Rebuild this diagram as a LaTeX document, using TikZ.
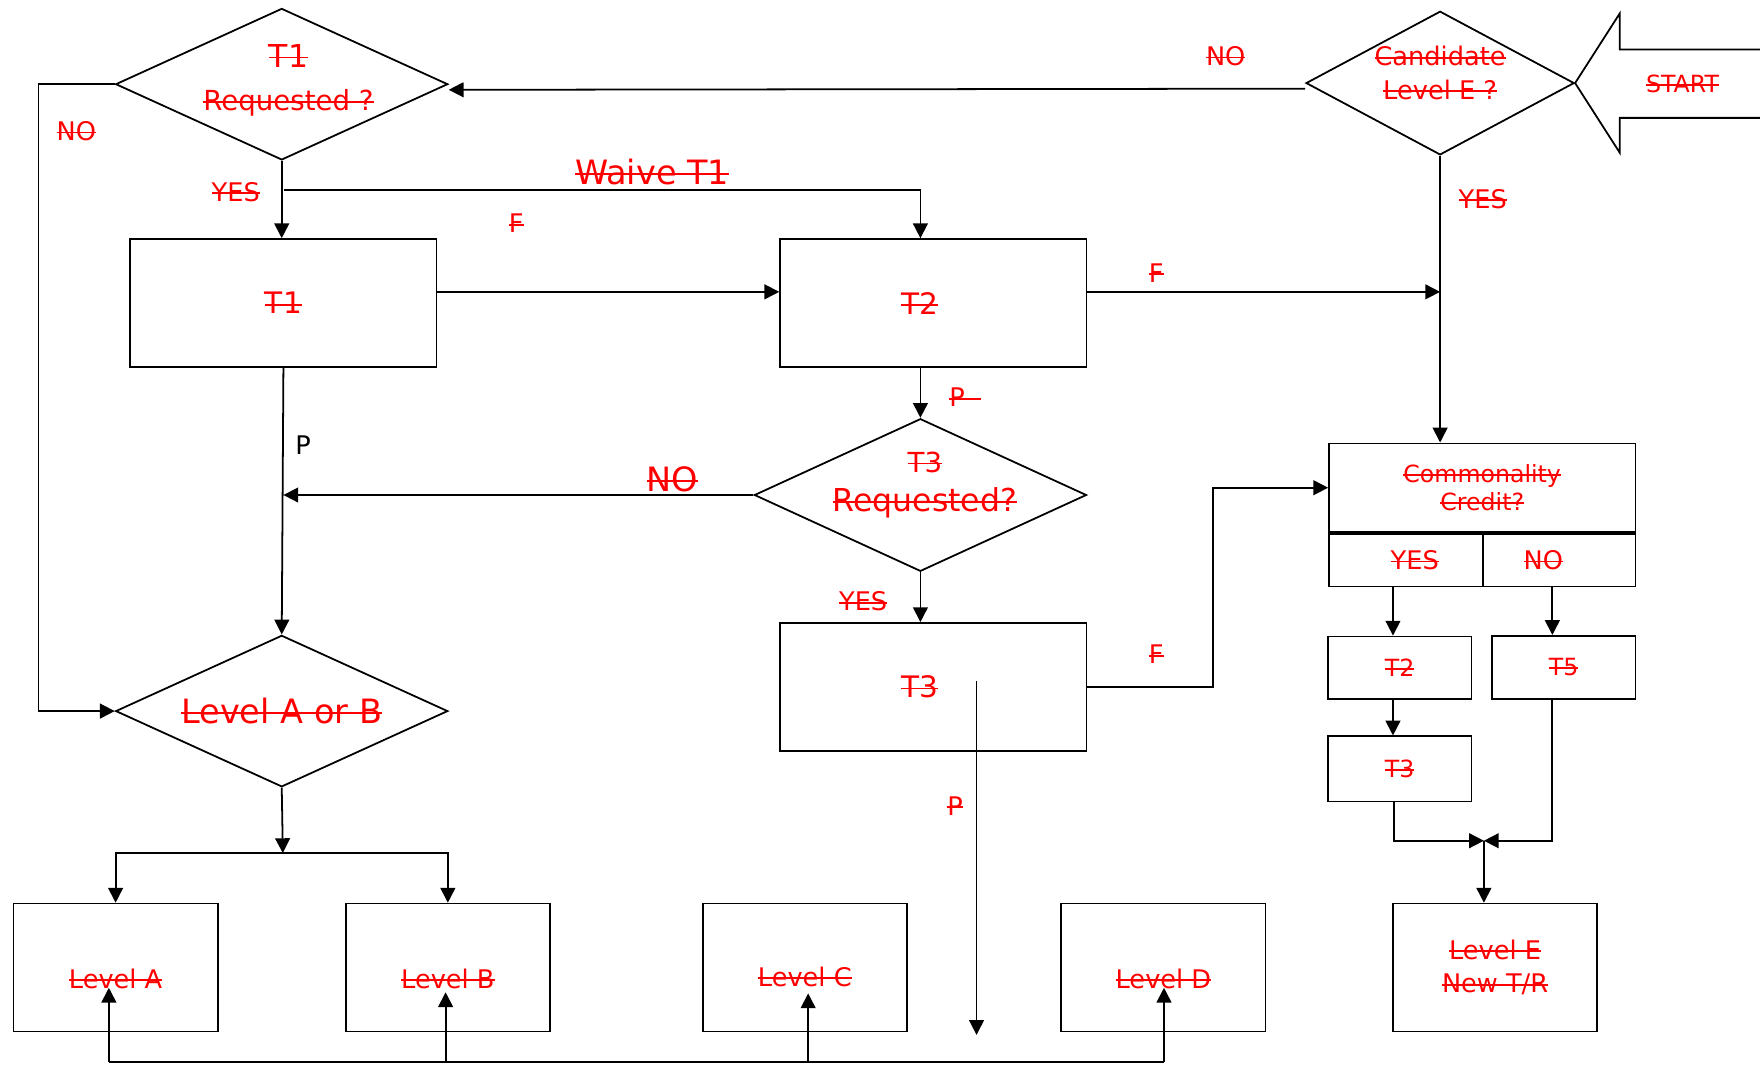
\documentclass[tikz,border=0pt]{standalone}
\usepackage{fontspec}
\setmainfont{DejaVu Sans}
\usetikzlibrary{shapes.geometric,arrows.meta}
\newsavebox\strkbox
\newcommand{\strk}[1]{\sbox\strkbox{#1}\rlap{\rule[0.28em]{\wd\strkbox}{0.9pt}}\usebox\strkbox}

\begin{document}
\begin{tikzpicture}[x=0.02cm,y=-0.02cm,->,>={Triangle[length=7.5pt,width=7.5pt]},line width=0.9pt,
    box/.style={draw,rectangle,text=red,align=center,minimum width=5.46cm,minimum height=2.28cm,font=\fontsize{15}{18}\selectfont},
    lvbox/.style={box,minimum width=3.64cm,font=\fontsize{13}{17}\selectfont},
    smallbox/.style={box,minimum width=2.56cm,minimum height=1.12cm,font=\fontsize{12}{14}\selectfont},
    decision/.style={draw,diamond,inner sep=0pt,minimum width=5.92cm,minimum height=2.7cm},
    dtext/.style={text=red,align=center,inner sep=0pt},
    lbl/.style={text=red,inner sep=0pt,font=\fontsize{13}{15}\selectfont},
    biglbl/.style={lbl,font=\fontsize{17}{20}\selectfont}]

    \useasboundingbox (0,0) rectangle (1568,948);

    % decisions
    \node[decision] (d1) at (251,75) {};
    \node[dtext,font=\fontsize{14}{22}\selectfont] (d1t) at ([xshift=0.12cm,yshift=0.07cm]d1.center) {{\fontsize{16}{22}\selectfont\strk{T1}}\\\strk{Requested ?}};
    \node[decision,minimum width=4.78cm,minimum height=2.56cm] (cand) at (1283,74) {};
    \node[dtext,font=\fontsize{13}{17}\selectfont] (candt) at ([yshift=0.18cm]cand.center) {\strk{Candidate}\\\strk{Level E ?}};
    \node[decision,minimum height=2.72cm] (t3q) at (820,441) {};
    \node[dtext,font=\fontsize{16}{20}\selectfont] (t3qt) at ([xshift=0.08cm,yshift=0.18cm]t3q.center) {{\fontsize{14}{20}\selectfont\strk{T3}}\\\strk{Requested?}};
    \node[decision] (lab) at (251,633.5) {};
    \node[dtext,font=\fontsize{17}{20}\selectfont] (labt) at (lab.center) {\strk{Level A or B}};

    % boxes
    \node[box] (t1) at (252.5,270) {\strk{T1}};
    \node[box] (t2) at (831.5,270) {\strk{T2}\hspace*{14pt}};
    \node[box] (t3) at (831.5,612) {\strk{T3}\hspace*{14pt}};
    \node[lvbox,text height=21pt] (lvA) at (103,862) {\strk{Level A}};
    \node[lvbox,text height=21pt] (lvB) at (399,862) {\strk{Level B}};
    \node[lvbox,text height=19pt] (lvC) at (717,862) {\strk{Level C}};
    \node[lvbox,text height=21pt] (lvD) at (1036.5,862) {\strk{Level D}};
    \node[lvbox] (lvE) at (1332,862) {\strk{Level E}\\\strk{New T/R}};

    \node[box,minimum height=1.58cm,font=\fontsize{12}{14}\selectfont] (cc) at (1320.5,434.5) {\strk{Commonality}\\\strk{Credit?}};
    \node[box,minimum width=2.74cm,minimum height=0.94cm,font=\fontsize{13}{15}\selectfont,anchor=north west] (ccyes) at (cc.south west) {\hspace*{9pt}\strk{YES}};
    \node[box,minimum width=2.72cm,minimum height=0.94cm,font=\fontsize{13}{15}\selectfont,anchor=north east] (ccno) at (cc.south east) {\strk{NO}\hspace*{16pt}};
    \node[smallbox] (t2s) at (1247,595) {\strk{T2}};
    \node[smallbox] (t5) at (1393,594.5) {\strk{T5}};
    \node[smallbox,minimum height=1.16cm] (t3s) at (1247,685) {\strk{T3}};

    % start arrow
    \draw[-] (1568,44) -- (1443,44) -- (1443,12) -- (cand.east) -- (1443,136) -- (1443,105) -- (1568,105);
    \node[lbl,font=\fontsize{12}{14}\selectfont] (start) at (1499,75) {\strk{START}};

    % labels
    \node[lbl] (noa) at (1092,50) {\strk{NO}};
    \node[lbl] (nob) at (68,117) {\strk{NO}};
    \node[lbl] (yesa) at (210,171) {\strk{YES}};
    \node[biglbl] (waive) at (581,153) {\strk{Waive T1}};
    \node[lbl] (fa) at (460,199) {\strk{F}};
    \node[lbl] (fb) at (1030,243) {\strk{F}};
    \node[lbl] (yesb) at (1321,177) {\strk{YES}};
    \node[lbl] (pa) at (860,354) {\strk{P\ \ }};
    \node[biglbl] (noc) at (599,427) {\strk{NO}};
    \node[lbl,text=black] (pb) at (270,397) {P};
    \node[lbl] (yesc) at (769,536) {\strk{YES}};
    \node[lbl] (fc) at (1030,583) {\strk{F}};
    \node[lbl] (pc) at (851,718) {\strk{P}};

    \coordinate (wv) at (253,169);
    \coordinate (split) at (252,760);
    \coordinate (mrg) at (1322,749);
    \coordinate (pin) at (870,607);
    \coordinate (pout) at (870,922);
    \coordinate (ba) at (97,946);
    \coordinate (bb) at (397,946);
    \coordinate (bc) at (720,946);
    \coordinate (bd) at (1037,946);
    \coordinate (ta) at (97,880);
    \coordinate (tb) at (397,884);
    \coordinate (tc) at (720,885);
    \coordinate (td) at (1037,880);

    % connectors
    \draw ([yshift=-0.1cm]cand.west) -- ([yshift=-0.1cm]d1.east);
    \draw (d1.west) -- ++(-68,0) |- (lab.west);
    \draw (d1.south) -- (d1.south |- t1.north);
    \draw (wv) -| (t3q.north |- t2.north);
    \draw ([yshift=0.2cm]t1.east) -- ([yshift=0.2cm]t2.west);
    \draw ([yshift=0.2cm]t2.east) -- ([yshift=0.2cm]t2.east -| cand.south);
    \draw (cand.south) -- (cand.south |- cc.north);
    \draw (t3q.north |- t2.south) -- (t3q.north);
    \draw (t3q.west) -- (t3q.west -| t1.south);
    \draw (t1.south) -- (lab.north);
    \draw (t3q.south) -- (t3q.south |- t3.north);
    \draw (t3.east) -- ++(112,0) |- (cc.west);
    \draw (pin) -- (pout);
    \draw (lab.south) -- (split);
    \draw (split) -| (lvA.north);
    \draw (split) -| (lvB.north);
    \draw[-] (ba) -- (bd);
    \foreach \b/\t in {ba/ta,bb/tb,bc/tc,bd/td}
        \draw (\b) -- (\t);
    \draw ([xshift=-0.12cm]t2s.north |- ccyes.south) -- ([xshift=-0.12cm]t2s.north);
    \draw ([xshift=-0.2cm]t5.north |- ccno.south) -- ([xshift=-0.2cm]t5.north);
    \draw ([xshift=-0.12cm]t2s.south) -- ([xshift=-0.12cm]t3s.north);
    \draw ([xshift=-0.1cm]t3s.south) |- (mrg);
    \draw ([xshift=-0.2cm]t5.south) |- (mrg);
    \draw (mrg) -- (mrg |- lvE.north);
\end{tikzpicture}
\end{document}
